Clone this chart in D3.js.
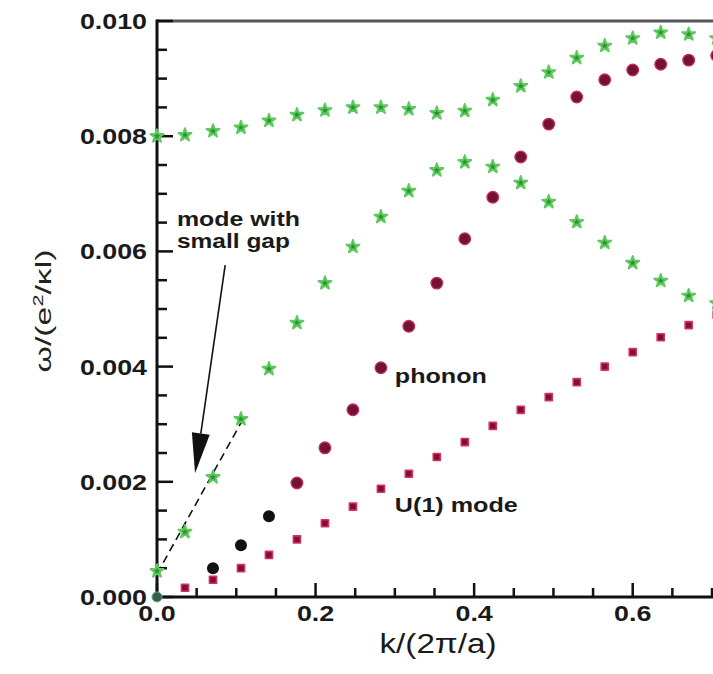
<!DOCTYPE html>
<html>
<head>
<meta charset="utf-8">
<script src="https://cdn.jsdelivr.net/npm/d3@7"></script>
<style>
  body { margin: 0; background: #fff; }
  svg { display: block; font-family: "Liberation Sans", Arial, sans-serif; }
</style>
</head>
<body>
<div id="chart"></div>
<script>
// k/(2pi/a) values at which the modes were computed
var kVals = [0, 0.0353, 0.0706, 0.1059, 0.1412, 0.1765, 0.2118, 0.2471, 0.2824, 0.3176,
             0.3529, 0.3882, 0.4235, 0.4588, 0.4941, 0.5294, 0.5647, 0.6, 0.6353, 0.6706, 0.7059];

// green branches (upper flat one and the "mode with small gap")
var greenUpper = [0.0080, 0.00802, 0.00809, 0.00815, 0.00827, 0.00837, 0.00845, 0.0085, 0.0085, 0.00847,
                  0.0084, 0.00844, 0.00863, 0.00887, 0.00911, 0.00936, 0.00957, 0.0097, 0.0098, 0.00977, 0.0097];
var greenLower = [0.00045, 0.00113, 0.00208, 0.00309, 0.00396, 0.00476, 0.00545, 0.00608, 0.0066, 0.00705,
                  0.00741, 0.00755, 0.00747, 0.00719, 0.00686, 0.00651, 0.00615, 0.0058, 0.00549, 0.00523, 0.0051];
// phonon (maroon circles), low-k part drawn black
var phonon = [null, null, null, null, null, 0.00198, 0.00259, 0.00325, 0.00398, 0.0047,
              0.00545, 0.00622, 0.00694, 0.00764, 0.00821, 0.00868, 0.00898, 0.00915, 0.00925, 0.00932, 0.0094];
var phononBlack = [null, null, 0.0005, 0.0009, 0.0014];
// U(1) mode
var u1Mode = [null, 0.00016, 0.0003, 0.0005, 0.00073, 0.001, 0.00128, 0.00157, 0.00188, 0.00214,
              0.00243, 0.00269, 0.00297, 0.00325, 0.00347, 0.00373, 0.004, 0.00425, 0.00451, 0.00472, 0.0049];
var originPt = [[0, 0]];

// dashed linear fit and arrow
var fitLine = [[0.0, 0.0004], [0.111, 0.00315]];
var arrowFrom = [0.086, 0.00576], arrowTo = [0.048, 0.00215];

var xTicks = [0, 0.2, 0.4, 0.6];
var yTicks = [0, 0.002, 0.004, 0.006, 0.008, 0.010];
var xMinorTicks = [0.05, 0.1, 0.15, 0.25, 0.3, 0.35, 0.45, 0.5, 0.55, 0.65, 0.7];
var yMinorTicks = [0.0005, 0.001, 0.0015, 0.0025, 0.003, 0.0035, 0.0045, 0.005, 0.0055,
                   0.0065, 0.007, 0.0075, 0.0085, 0.009, 0.0095];

var notes = [
  {text: "mode with", k: 0.0252, w: 0.00644, len: 123},
  {text: "small gap", k: 0.0252, w: 0.00606, len: 113},
  {text: "phonon", k: 0.300, w: 0.00372, len: 92},
  {text: "U(1) mode", k: 0.300, w: 0.00148, len: 123}
];

var width = 713, height = 674;
var stretch = 1.22;

var x = d3.scaleLinear().domain([0, 0.7]).range([157, 712]);
var y = d3.scaleLinear().domain([0, 0.010]).range([597, 21]);

var svg = d3.select("#chart").append("svg")
    .attr("width", width)
    .attr("height", height);

// frame: top line, bottom and left axes
svg.append("rect")
    .attr("x", x(0)).attr("y", y(0.010) - 1.5)
    .attr("width", width - x(0)).attr("height", 3)
    .attr("fill", "#555");
svg.append("rect")
    .attr("x", x(0) - 1.5).attr("y", y(0) - 1.5)
    .attr("width", width - x(0) + 1.5).attr("height", 3)
    .attr("fill", "#111");
svg.append("rect")
    .attr("x", x(0) - 1.5).attr("y", y(0.010) - 1.5)
    .attr("width", 3).attr("height", y(0) - y(0.010) + 1.5)
    .attr("fill", "#111");

// ticks, pointing inward
svg.append("g").selectAll("rect")
    .data(xMinorTicks.map(v => [v, 9]).concat(xTicks.map(v => [v, 14])))
    .enter().append("rect")
    .attr("x", d => x(d[0]) - 1.25).attr("y", d => y(0) - d[1])
    .attr("width", 2.5).attr("height", d => d[1])
    .attr("fill", "#111");
svg.append("g").selectAll("rect")
    .data(yMinorTicks.map(v => [v, 10]).concat(yTicks.map(v => [v, 16])))
    .enter().append("rect")
    .attr("x", x(0)).attr("y", d => y(d[0]) - 1.25)
    .attr("width", d => d[1]).attr("height", 2.5)
    .attr("fill", "#111");

// tick labels
svg.append("g").selectAll("text")
    .data(xTicks)
    .enter().append("text")
    .attr("transform", d => "translate(" + x(d) + "," + (y(0) + 24) + ") scale(" + stretch + ",1)")
    .attr("text-anchor", "middle")
    .attr("fill", "#1a1a1a")
    .style("font-size", "22px")
    .style("font-weight", "bold")
    .text(d3.format(".1f"));
svg.append("g").selectAll("text")
    .data(yTicks)
    .enter().append("text")
    .attr("transform", d => "translate(" + (x(0) - 10) + "," + (y(d) + 8) + ") scale(" + stretch + ",1)")
    .attr("text-anchor", "end")
    .attr("fill", "#1a1a1a")
    .style("font-size", "22px")
    .style("font-weight", "bold")
    .text(d3.format(".3f"));

// dashed fit
svg.append("path")
    .datum(fitLine)
    .attr("d", d3.line().x(d => x(d[0])).y(d => y(d[1])))
    .attr("fill", "none")
    .attr("stroke", "#111")
    .attr("stroke-width", 1.6)
    .attr("stroke-dasharray", "8,5");

function pts(vals) {
  return vals.map((v, i) => [kVals[i], v]).filter(d => d[1] != null);
}

var star = d3.symbol().type(d3.symbolStar).size(52);

// green stars
[greenUpper, greenLower].forEach(function (s) {
  svg.append("g").selectAll("path")
    .data(pts(s))
    .enter().append("path")
    .attr("transform", d => "translate(" + x(d[0]) + "," + y(d[1]) + ")")
    .attr("d", star)
    .attr("fill", "#2c922e")
    .attr("stroke", "#5ec95e")
    .attr("stroke-width", 2)
    .attr("stroke-linejoin", "round");
});

// origin point
svg.append("g").selectAll("circle")
    .data(originPt)
    .enter().append("circle")
    .attr("cx", d => x(d[0])).attr("cy", d => y(d[1]))
    .attr("r", 5)
    .attr("fill", "#355e48")
    .attr("stroke", "#6fa88a").attr("stroke-width", 1);

// U(1) mode
svg.append("g").selectAll("path")
    .data(pts(u1Mode))
    .enter().append("path")
    .attr("transform", d => "translate(" + x(d[0]) + "," + y(d[1]) + ")")
    .attr("d", d3.symbol().type(d3.symbolSquare).size(50))
    .attr("fill", "#7e0e34")
    .attr("stroke", "#d8305e")
    .attr("stroke-width", 1.6)
    .attr("stroke-linejoin", "round");

// phonon
svg.append("g").selectAll("circle")
    .data(pts(phonon))
    .enter().append("circle")
    .attr("cx", d => x(d[0])).attr("cy", d => y(d[1]))
    .attr("r", 5.8)
    .attr("fill", "#731333")
    .attr("stroke", "#c82c5a").attr("stroke-width", 1.3);

svg.append("g").selectAll("circle")
    .data(pts(phononBlack))
    .enter().append("circle")
    .attr("cx", d => x(d[0])).attr("cy", d => y(d[1]))
    .attr("r", 6)
    .attr("fill", "#111");

// arrow
var ax0 = x(arrowFrom[0]), ay0 = y(arrowFrom[1]);
var ax1 = x(arrowTo[0]), ay1 = y(arrowTo[1]);
var dx = ax1 - ax0, dy = ay1 - ay0, len = Math.sqrt(dx * dx + dy * dy);
var ux = dx / len, uy = dy / len;
var headLen = 40, headW = 9;
var bx = ax1 - ux * headLen, by = ay1 - uy * headLen;
svg.append("line")
    .attr("x1", ax0).attr("y1", ay0).attr("x2", bx).attr("y2", by)
    .attr("stroke", "#111").attr("stroke-width", 1.6);
svg.append("path")
    .attr("d", "M" + ax1 + "," + ay1 +
               "L" + (bx - uy * headW) + "," + (by + ux * headW) +
               "L" + (bx + uy * headW) + "," + (by - ux * headW) + "Z")
    .attr("fill", "#111");

// annotations
svg.append("g").selectAll("text")
    .data(notes)
    .enter().append("text")
    .attr("x", d => x(d.k)).attr("y", d => y(d.w))
    .attr("textLength", d => d.len)
    .attr("lengthAdjust", "spacingAndGlyphs")
    .attr("fill", "#1a1a1a")
    .style("font-size", "20px")
    .style("font-weight", "bold")
    .text(d => d.text);

// axis titles
svg.append("text")
    .attr("x", 438).attr("y", 653)
    .attr("text-anchor", "middle")
    .attr("textLength", 117)
    .attr("lengthAdjust", "spacingAndGlyphs")
    .attr("fill", "#1a1a1a")
    .style("font-size", "27px")
    .text("k/(2\u03c0/a)");

var yl = svg.append("text")
    .attr("transform", "translate(51,311) rotate(-90)")
    .attr("text-anchor", "middle")
    .attr("textLength", 123)
    .attr("lengthAdjust", "spacingAndGlyphs")
    .attr("fill", "#222")
    .style("font-size", "22px");
yl.append("tspan").text("\u03c9/(e");
yl.append("tspan").attr("baseline-shift", "super").style("font-size", "14px").text("2");
yl.append("tspan").text("/\u03bal)");
</script>
</body>
</html>
